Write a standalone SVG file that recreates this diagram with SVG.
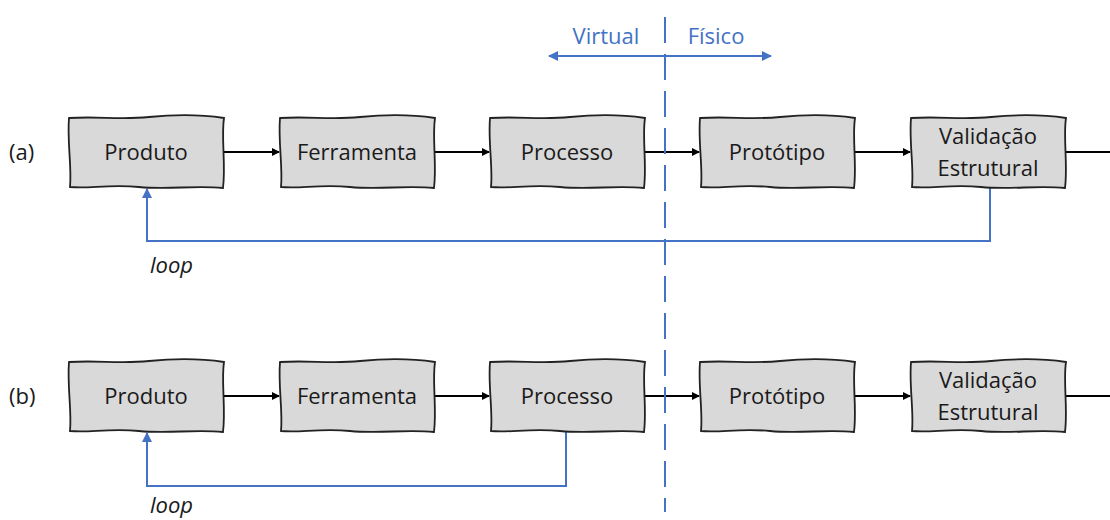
<svg xmlns="http://www.w3.org/2000/svg" xmlns:xlink="http://www.w3.org/1999/xlink" width="1110" height="520" viewBox="0 0 1110 520">
<style>
.lbl{font-family:"Open Sans","Noto Sans",sans-serif;font-size:22px;fill:#1a1a1a;text-anchor:middle}
.side{font-family:"Open Sans","Noto Sans",sans-serif;font-size:22px;fill:#1a1a1a}
.blue{font-family:"Open Sans","Noto Sans",sans-serif;font-size:22px;fill:#4472c4;text-anchor:middle}
.loop{font-family:"Open Sans","Noto Sans",sans-serif;font-size:22px;font-style:italic;fill:#1a1a1a}
.box{fill:#d9d9d9;stroke:#222;stroke-width:1.8}
.k{stroke:#000;stroke-width:2;fill:none}
.b{stroke:#4472c4;stroke-width:2;fill:none}
</style>
<defs>
<path id="box" class="box" d="M0,1 C30,-1 50,3 80,0 S135,-2 155,1 C152,20 157,48 154,71 C125,68 100,73 70,70 S20,72 1,70 C3,50 -2,25 0,1 Z"/>
<marker id="ak" markerWidth="8" markerHeight="8" refX="7" refY="4" orient="auto" markerUnits="userSpaceOnUse"><path d="M0,0 L8,4 L0,8 Z" fill="#000"/></marker>
<marker id="ab" markerWidth="10" markerHeight="10" refX="9" refY="5" orient="auto" markerUnits="userSpaceOnUse"><path d="M0,0 L10,5 L0,10 Z" fill="#4472c4"/></marker>
</defs>
<g id="connectors">
<line class="k" x1="224" y1="152" x2="279" y2="152" marker-end="url(#ak)"/>
<line class="k" x1="434" y1="152" x2="489" y2="152" marker-end="url(#ak)"/>
<line class="k" x1="645" y1="152" x2="699" y2="152" marker-end="url(#ak)"/>
<line class="k" x1="855" y1="152" x2="910" y2="152" marker-end="url(#ak)"/>
<line class="k" x1="1066" y1="152" x2="1110" y2="152"/>
<line class="k" x1="224" y1="396" x2="279" y2="396" marker-end="url(#ak)"/>
<line class="k" x1="434" y1="396" x2="489" y2="396" marker-end="url(#ak)"/>
<line class="k" x1="645" y1="396" x2="699" y2="396" marker-end="url(#ak)"/>
<line class="k" x1="855" y1="396" x2="910" y2="396" marker-end="url(#ak)"/>
<line class="k" x1="1066" y1="396" x2="1110" y2="396"/>
<polyline class="b" points="990,188 990,241 147,241 147,189" marker-end="url(#ab)"/>
<polyline class="b" points="566,432 566,486 147,486 147,433" marker-end="url(#ab)"/>
<line class="b" x1="665" y1="17" x2="665" y2="512" stroke-dasharray="26,11" stroke-width="2.5"/>
<line class="b" x1="665" y1="56" x2="549" y2="56" marker-end="url(#ab)"/>
<line class="b" x1="665" y1="56" x2="771" y2="56" marker-end="url(#ab)"/>
</g>
<text class="blue" x="606" y="44">Virtual</text>
<text class="blue" x="716" y="44">Físico</text>
<text class="side" x="9" y="160">(a)</text>
<text class="side" x="9" y="404">(b)</text>
<text class="loop" x="150" y="273">loop</text>
<text class="loop" x="150" y="513">loop</text>
<g id="a-produto"><use href="#box" x="69" y="117"/><text class="lbl" x="146" y="160">Produto</text></g>
<g id="a-ferramenta"><use href="#box" x="280" y="117"/><text class="lbl" x="357" y="160">Ferramenta</text></g>
<g id="a-processo"><use href="#box" x="490" y="117"/><text class="lbl" x="567" y="160">Processo</text></g>
<g id="a-prototipo"><use href="#box" x="700" y="117"/><text class="lbl" x="777" y="160">Protótipo</text></g>
<g id="a-validacao"><use href="#box" x="911" y="117"/><text class="lbl" x="988" y="144">Validação</text><text class="lbl" x="988" y="176">Estrutural</text></g>
<g id="b-produto"><use href="#box" x="69" y="361"/><text class="lbl" x="146" y="404">Produto</text></g>
<g id="b-ferramenta"><use href="#box" x="280" y="361"/><text class="lbl" x="357" y="404">Ferramenta</text></g>
<g id="b-processo"><use href="#box" x="490" y="361"/><text class="lbl" x="567" y="404">Processo</text></g>
<g id="b-prototipo"><use href="#box" x="700" y="361"/><text class="lbl" x="777" y="404">Protótipo</text></g>
<g id="b-validacao"><use href="#box" x="911" y="361"/><text class="lbl" x="988" y="388">Validação</text><text class="lbl" x="988" y="420">Estrutural</text></g>
</svg>
